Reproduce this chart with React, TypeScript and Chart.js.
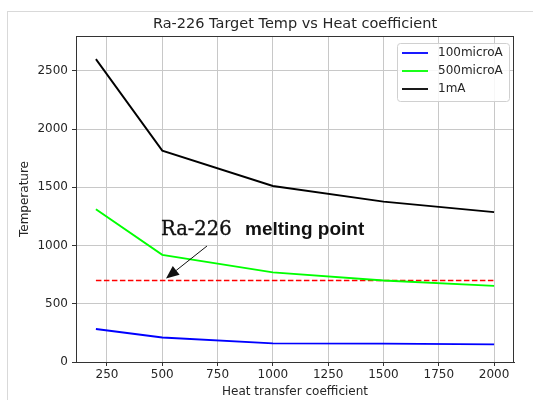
import React, { useEffect, useRef } from "react";
import { Chart, registerables } from "chart.js";

Chart.register(...registerables);

const heatCoeff = [200, 500, 1000, 1500, 2000];
const temp100uA = [283, 211, 160, 158, 151];
const temp500uA = [1312, 920, 770, 700, 654];
const temp1mA = [2601, 1815, 1512, 1377, 1287];
const meltingX = [200, 2000];
const meltingTemp = [700, 700];
const seriesLabels = ["100microA", "500microA", "1mA"];
const seriesColors = ["#0000ff", "#00ff00", "#000000"];
const xTickValues = [250, 500, 750, 1000, 1250, 1500, 1750, 2000];
const yTickValues = [0, 500, 1000, 1500, 2000, 2500];

const TITLE = "Ra-226 Target Temp vs Heat coefficient";
const X_TITLE = "Heat transfer coefficient";
const Y_TITLE = "Temperature";
const NOTE_A = "Ra-226";
const NOTE_B = "melting point";

const SANS = "'DejaVu Sans', sans-serif";
const TEXT = "#262626";

function pts(xs: number[], ys: number[]) {
  return xs.map((x, i) => ({ x, y: ys[i] }));
}

const decorPlugin = {
  id: "decor",
  beforeDraw(chart: any) {
    const ctx = chart.ctx;
    ctx.save();
    ctx.fillStyle = "#ffffff";
    ctx.fillRect(0, 0, chart.width, chart.height);
    ctx.strokeStyle = "#d9d9d9";
    ctx.lineWidth = 1;
    ctx.strokeRect(7.5, 11.5, 1000, 1000);
    ctx.restore();
  },
  afterDraw(chart: any) {
    const ctx = chart.ctx;
    const a = chart.chartArea;
    ctx.save();
    // frame
    ctx.strokeStyle = "#333333";
    ctx.lineWidth = 1;
    ctx.strokeRect(a.left + 0.5, a.top + 0.5, a.right - a.left - 1, a.bottom - a.top);
    // title
    ctx.fillStyle = TEXT;
    ctx.font = "14.5px " + SANS;
    ctx.textAlign = "center";
    ctx.textBaseline = "middle";
    ctx.fillText(TITLE, (a.left + a.right) / 2, 24.5);

    // legend
    const lx = 397.5, ly = 43.5, lw = 112, lh = 58;
    ctx.fillStyle = "rgba(255,255,255,0.85)";
    ctx.strokeStyle = "#d0d0d0";
    ctx.beginPath();
    if ((ctx as any).roundRect) (ctx as any).roundRect(lx, ly, lw, lh, 3);
    else ctx.rect(lx, ly, lw, lh);
    ctx.fill();
    ctx.stroke();
    ctx.font = "12px " + SANS;
    ctx.textAlign = "left";
    ctx.textBaseline = "middle";
    seriesLabels.forEach((lab, i) => {
      const y = 53 + i * 18;
      ctx.strokeStyle = seriesColors[i];
      ctx.lineWidth = 1.8;
      ctx.beginPath();
      ctx.moveTo(402, y);
      ctx.lineTo(428, y);
      ctx.stroke();
      ctx.fillStyle = TEXT;
      ctx.fillText(lab, 438, y);
    });

    // annotation
    ctx.fillStyle = "#111111";
    ctx.strokeStyle = "#111111";
    ctx.textBaseline = "alphabetic";
    ctx.font = "19.5px 'DejaVu Serif', serif";
    ctx.lineWidth = 0.35;
    ctx.fillText(NOTE_A, 161, 235);
    ctx.strokeText(NOTE_A, 161, 235);
    ctx.font = "bold 19px 'Liberation Sans', sans-serif";
    ctx.fillText(NOTE_B, 245, 235);

    // arrow
    const x0 = 207, y0 = 246, x1 = 166, y1 = 278.5;
    const ang = Math.atan2(y1 - y0, x1 - x0);
    const hl = 13, hw = 5.5;
    const bx = x1 - hl * Math.cos(ang), by = y1 - hl * Math.sin(ang);
    ctx.lineWidth = 1;
    ctx.beginPath();
    ctx.moveTo(x0, y0);
    ctx.lineTo(bx, by);
    ctx.stroke();
    ctx.beginPath();
    ctx.moveTo(x1, y1);
    ctx.lineTo(bx + hw * Math.sin(ang), by - hw * Math.cos(ang));
    ctx.lineTo(bx - hw * Math.sin(ang), by + hw * Math.cos(ang));
    ctx.closePath();
    ctx.fill();
    ctx.restore();
  },
};

export default function App() {
  const ref = useRef<HTMLCanvasElement | null>(null);
  useEffect(() => {
    document.body.style.margin = "0";
    const canvas = ref.current;
    if (!canvas) return;
    const lineDs = (label: string, ys: number[], color: string) => ({
      label,
      data: pts(heatCoeff, ys),
      borderColor: color,
      backgroundColor: color,
      borderWidth: 1.9,
      pointRadius: 0,
      tension: 0,
      fill: false,
    });
    const plain = (v: any) => String(v);
    const chart = new Chart(canvas, {
      type: "line",
      data: {
        datasets: [
          lineDs(seriesLabels[0], temp100uA, seriesColors[0]),
          lineDs(seriesLabels[1], temp500uA, seriesColors[1]),
          lineDs(seriesLabels[2], temp1mA, seriesColors[2]),
          {
            label: "melting",
            data: pts(meltingX, meltingTemp),
            borderColor: "#ff0000",
            borderWidth: 1.7,
            borderDash: [5.5, 2.5],
            pointRadius: 0,
            fill: false,
          },
        ],
      },
      options: {
        animation: false,
        responsive: false,
        devicePixelRatio: 1,
        layout: { padding: { left: 0, top: 36, right: 19, bottom: 0 } },
        plugins: {
          legend: { display: false },
          title: { display: false },
          tooltip: { enabled: false },
        },
        scales: {
          x: {
            type: "linear",
            min: 110,
            max: 2090,
            afterFit: (s: any) => {
              s.height = 38;
            },
            afterBuildTicks: (s: any) => {
              s.ticks = xTickValues.map((v) => ({ value: v }));
            },
            ticks: {
              includeBounds: false,
              font: { family: SANS, size: 12 },
              color: TEXT,
              padding: 2,
              maxRotation: 0,
              autoSkip: false,
              callback: plain,
            },
            grid: { color: "#c8c8c8", lineWidth: 1, tickLength: 4, tickColor: "#333333" },
            border: { display: true, color: "#333333" },
            title: {
              display: true,
              text: X_TITLE,
              font: { family: SANS, size: 12 },
              color: TEXT,
              padding: { top: 0, bottom: 0.5 },
            },
          },
          y: {
            type: "linear",
            min: 0,
            max: 2800,
            afterFit: (s: any) => {
              s.width = 76;
            },
            afterBuildTicks: (s: any) => {
              s.ticks = yTickValues.map((v) => ({ value: v }));
            },
            ticks: {
              includeBounds: false,
              font: { family: SANS, size: 12 },
              color: TEXT,
              padding: 4,
              autoSkip: false,
              callback: plain,
            },
            grid: { color: "#c8c8c8", lineWidth: 1, tickLength: 4, tickColor: "#333333" },
            border: { display: true, color: "#333333" },
            title: {
              display: true,
              text: Y_TITLE,
              font: { family: SANS, size: 12 },
              color: TEXT,
              padding: { top: 18, bottom: 0 },
            },
          },
        },
      },
      plugins: [decorPlugin],
    } as any);
    return () => chart.destroy();
  }, []);
  return (
    <div style={{ width: 533, height: 400, position: "relative" }}>
      <canvas ref={ref} width={533} height={400} style={{ display: "block" }} />
    </div>
  );
}
